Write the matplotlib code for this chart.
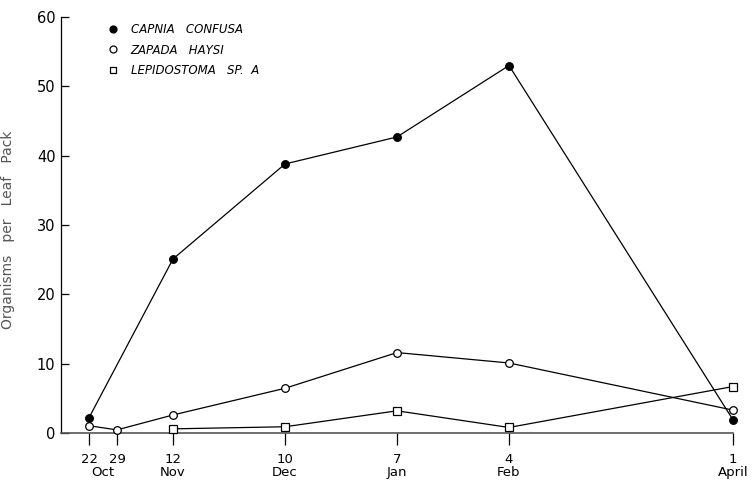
import matplotlib
matplotlib.use("Agg")
import matplotlib.pyplot as plt
from matplotlib.lines import Line2D

# Sampling dates as days after 22 October
days = [0, 7, 21, 49, 77, 105, 161]
day_labels = ["22", "29", "12", "10", "7", "4", "1"]
months = ["Oct", "Nov", "Dec", "Jan", "Feb", "April"]
month_pos = [3.5, 21, 49, 77, 105, 161]

capnia = [2.2, None, 25.1, 38.8, 42.7, 53.0, 1.9]
zapada = [1.05, 0.45, 2.6, 6.45, 11.6, 10.1, 3.3]
lepido = [None, None, 0.6, 0.9, 3.2, 0.8, 6.7]

species = ["CAPNIA   CONFUSA", "ZAPADA   HAYSI", "LEPIDOSTOMA   SP.  A"]


def pts(vals):
    xs = [d for d, v in zip(days, vals) if v is not None]
    ys = [v for v in vals if v is not None]
    return xs, ys


fig = plt.figure(figsize=(7.52, 4.84), dpi=100)
ax = fig.add_axes([61 / 752, 51 / 484, 672 / 752, 416 / 484])

styles = [
    dict(marker="o", mfc="black", mec="black"),
    dict(marker="o", mfc="white", mec="black"),
    dict(marker="s", mfc="white", mec="black"),
]
for vals, st in zip([capnia, zapada, lepido], styles):
    x, y = pts(vals)
    ax.plot(x, y, color="black", lw=0.9, ms=5.5, mew=0.9, zorder=3, clip_on=False, **st)

ax.set_xlim(-7, 161)
ax.set_ylim(0, 60)
ax.set_yticks(range(0, 61, 10))
ax.set_xticks(days)
ax.set_xticklabels(day_labels)

for side in ["top", "right"]:
    ax.spines[side].set_visible(False)
ax.spines["left"].set_linewidth(0.9)
ax.spines["bottom"].set_linewidth(1.2)
ax.spines["bottom"].set_color("#555555")

ax.tick_params(axis="y", direction="in", length=6, width=0.9, labelsize=10.5, pad=4)
ax.tick_params(axis="x", direction="out", length=8.5, width=0.9, labelsize=9.5, pad=6)

for m, p in zip(months, month_pos):
    ax.text(p, -5.7, m, ha="center", va="center", fontsize=9.5)

fig.text(8 / 752, 1 - 230 / 484, "Organisms   per   Leaf   Pack", rotation=90,
         ha="center", va="center", fontsize=10, color="#555555")

handles = [Line2D([], [], ls="none", ms=5, mew=0.9, **st) for st in styles]
leg = ax.legend(handles, species, loc="upper left", bbox_to_anchor=(0.071, 0.985),
                frameon=False, handlelength=0.8, handletextpad=1.05,
                labelspacing=0.62, prop=dict(size=8.5, style="italic"),
                borderaxespad=0, borderpad=0)

fig.savefig("out.png", dpi=100, facecolor="white")
